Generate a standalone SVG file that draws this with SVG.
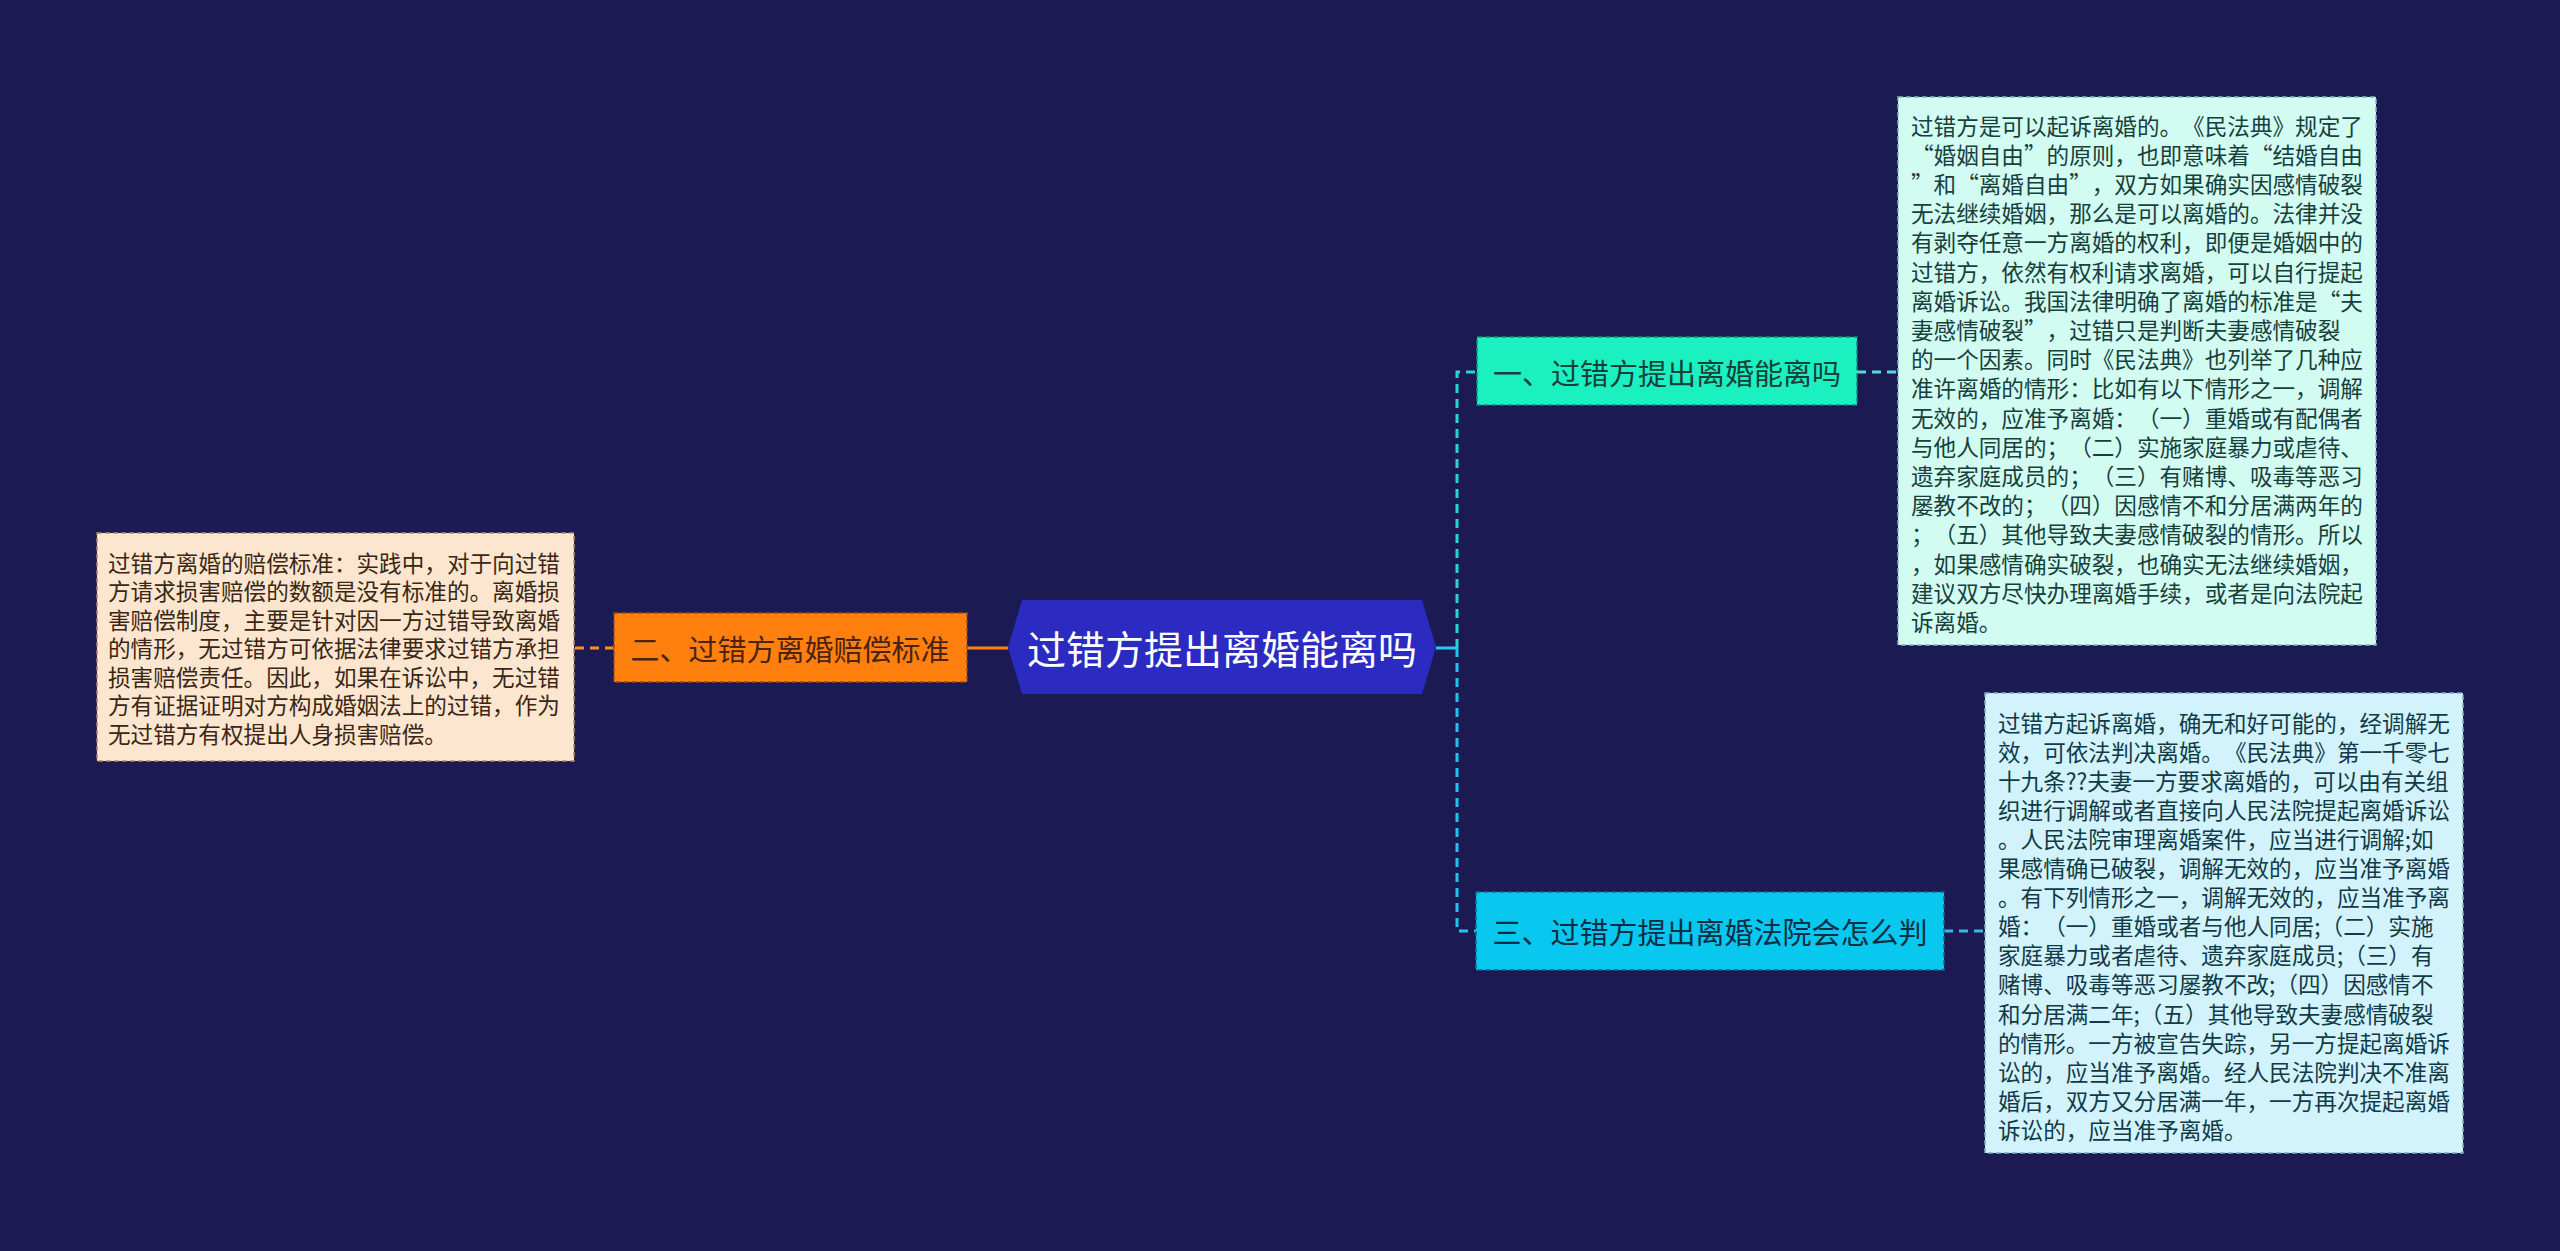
<svg xmlns="http://www.w3.org/2000/svg" width="2560" height="1251" viewBox="0 0 2560 1251">
<style>
text{font-family:"Noto Sans CJK SC","Noto Sans",sans-serif;dominant-baseline:central;text-spacing-trim:space-all}
.body{font-size:22.6px}
.br{font-size:29px}
.dash{fill:none;stroke-width:3;stroke-dasharray:9 6}
</style>
<rect width="2560" height="1251" fill="#1c1a52"/>
<g id="connectors">
<line x1="1008" y1="648" x2="967" y2="648" stroke="#ff7f0e" stroke-width="3"/>
<line x1="614" y1="648" x2="574" y2="648" stroke="#ff8c2a" class="dash"/>
<line x1="1436" y1="648" x2="1457" y2="648" stroke="#2ec8ee" stroke-width="3"/>
<path d="M1457,648 V372 H1477" stroke="#22d8cc" class="dash"/>
<path d="M1457,648 V931 H1476" stroke="#1ec6ee" class="dash"/>
<line x1="1857" y1="372" x2="1898" y2="372" stroke="#5ad8d8" class="dash"/>
<line x1="1944" y1="931" x2="1985" y2="931" stroke="#3ab8e0" class="dash"/>
</g>
<g id="root">
<polygon points="1008,647 1022,600 1422,600 1436,647 1422,694 1022,694" fill="#2b2bc2"/>
<text x="1222" y="647" font-size="39" fill="#ffffff" text-anchor="middle">过错方提出离婚能离吗</text>
</g>
<g id="n2">
<rect x="614" y="613" width="353" height="69" fill="#ff800f" stroke="#a04a10" stroke-width="1.5" stroke-dasharray="5 3"/>
<text class="br" x="790" y="648" fill="#4a2410" text-anchor="middle">二、过错方离婚赔偿标准</text>
</g>
<g id="n2text">
<rect x="97" y="533" width="477" height="228" fill="#fde6cf" stroke="#b08a6a" stroke-width="1.5" stroke-dasharray="5 3"/>
<g class="body" fill="#3a2614">
<text x="108" y="562">过错方离婚的赔偿标准：实践中，对于向过错</text>
<text x="108" y="590.5">方请求损害赔偿的数额是没有标准的。离婚损</text>
<text x="108" y="619">害赔偿制度，主要是针对因一方过错导致离婚</text>
<text x="108" y="647.5">的情形，无过错方可依据法律要求过错方承担</text>
<text x="108" y="676">损害赔偿责任。因此，如果在诉讼中，无过错</text>
<text x="108" y="704.5">方有证据证明对方构成婚姻法上的过错，作为</text>
<text x="108" y="733">无过错方有权提出人身损害赔偿。</text>
</g>
</g>
<g id="n1">
<rect x="1477" y="337" width="380" height="68" fill="#1bf0c0" stroke="#108a78" stroke-width="1.5" stroke-dasharray="5 3"/>
<text class="br" x="1667" y="372" fill="#16403a" text-anchor="middle">一、过错方提出离婚能离吗</text>
</g>
<g id="n1text">
<rect x="1898" y="97" width="478" height="548" fill="#d2fcf1" stroke="#80b8b0" stroke-width="1.5" stroke-dasharray="5 3"/>
<g class="body" fill="#17403c">
<text x="1911" y="125">过错方是可以起诉离婚的。《民法典》规定了</text>
<text x="1911" y="154.2">“婚姻自由”的原则，也即意味着“结婚自由</text>
<text x="1911" y="183.4">”和“离婚自由”，双方如果确实因感情破裂</text>
<text x="1911" y="212.6">无法继续婚姻，那么是可以离婚的。法律并没</text>
<text x="1911" y="241.8">有剥夺任意一方离婚的权利，即便是婚姻中的</text>
<text x="1911" y="271">过错方，依然有权利请求离婚，可以自行提起</text>
<text x="1911" y="300.2">离婚诉讼。我国法律明确了离婚的标准是“夫</text>
<text x="1911" y="329.4">妻感情破裂”，过错只是判断夫妻感情破裂</text>
<text x="1911" y="358.6">的一个因素。同时《民法典》也列举了几种应</text>
<text x="1911" y="387.8">准许离婚的情形：比如有以下情形之一，调解</text>
<text x="1911" y="417">无效的，应准予离婚：（一）重婚或有配偶者</text>
<text x="1911" y="446.2">与他人同居的；（二）实施家庭暴力或虐待、</text>
<text x="1911" y="475.4">遗弃家庭成员的；（三）有赌博、吸毒等恶习</text>
<text x="1911" y="504.6">屡教不改的；（四）因感情不和分居满两年的</text>
<text x="1911" y="533.8">；（五）其他导致夫妻感情破裂的情形。所以</text>
<text x="1911" y="563">，如果感情确实破裂，也确实无法继续婚姻，</text>
<text x="1911" y="592.2">建议双方尽快办理离婚手续，或者是向法院起</text>
<text x="1911" y="621.4">诉离婚。</text>
</g>
</g>
<g id="n3">
<rect x="1476" y="892" width="468" height="78" fill="#08c8f0" stroke="#0a6a90" stroke-width="1.5" stroke-dasharray="5 3"/>
<text class="br" x="1710" y="931" fill="#0c2e44" text-anchor="middle">三、过错方提出离婚法院会怎么判</text>
</g>
<g id="n3text">
<rect x="1985" y="693" width="478" height="460" fill="#d2f3fb" stroke="#7ab0c0" stroke-width="1.5" stroke-dasharray="5 3"/>
<g class="body" fill="#113a48">
<text x="1998" y="722">过错方起诉离婚，确无和好可能的，经调解无</text>
<text x="1998" y="751.1">效，可依法判决离婚。《民法典》第一千零七</text>
<text x="1998" y="780.2">十九条??夫妻一方要求离婚的，可以由有关组</text>
<text x="1998" y="809.3">织进行调解或者直接向人民法院提起离婚诉讼</text>
<text x="1998" y="838.4">。人民法院审理离婚案件，应当进行调解;如</text>
<text x="1998" y="867.5">果感情确已破裂，调解无效的，应当准予离婚</text>
<text x="1998" y="896.6">。有下列情形之一，调解无效的，应当准予离</text>
<text x="1998" y="925.7">婚：（一）重婚或者与他人同居;（二）实施</text>
<text x="1998" y="954.8">家庭暴力或者虐待、遗弃家庭成员;（三）有</text>
<text x="1998" y="983.9">赌博、吸毒等恶习屡教不改;（四）因感情不</text>
<text x="1998" y="1013">和分居满二年;（五）其他导致夫妻感情破裂</text>
<text x="1998" y="1042.1">的情形。一方被宣告失踪，另一方提起离婚诉</text>
<text x="1998" y="1071.2">讼的，应当准予离婚。经人民法院判决不准离</text>
<text x="1998" y="1100.3">婚后，双方又分居满一年，一方再次提起离婚</text>
<text x="1998" y="1129.4">诉讼的，应当准予离婚。</text>
</g>
</g>
</svg>
